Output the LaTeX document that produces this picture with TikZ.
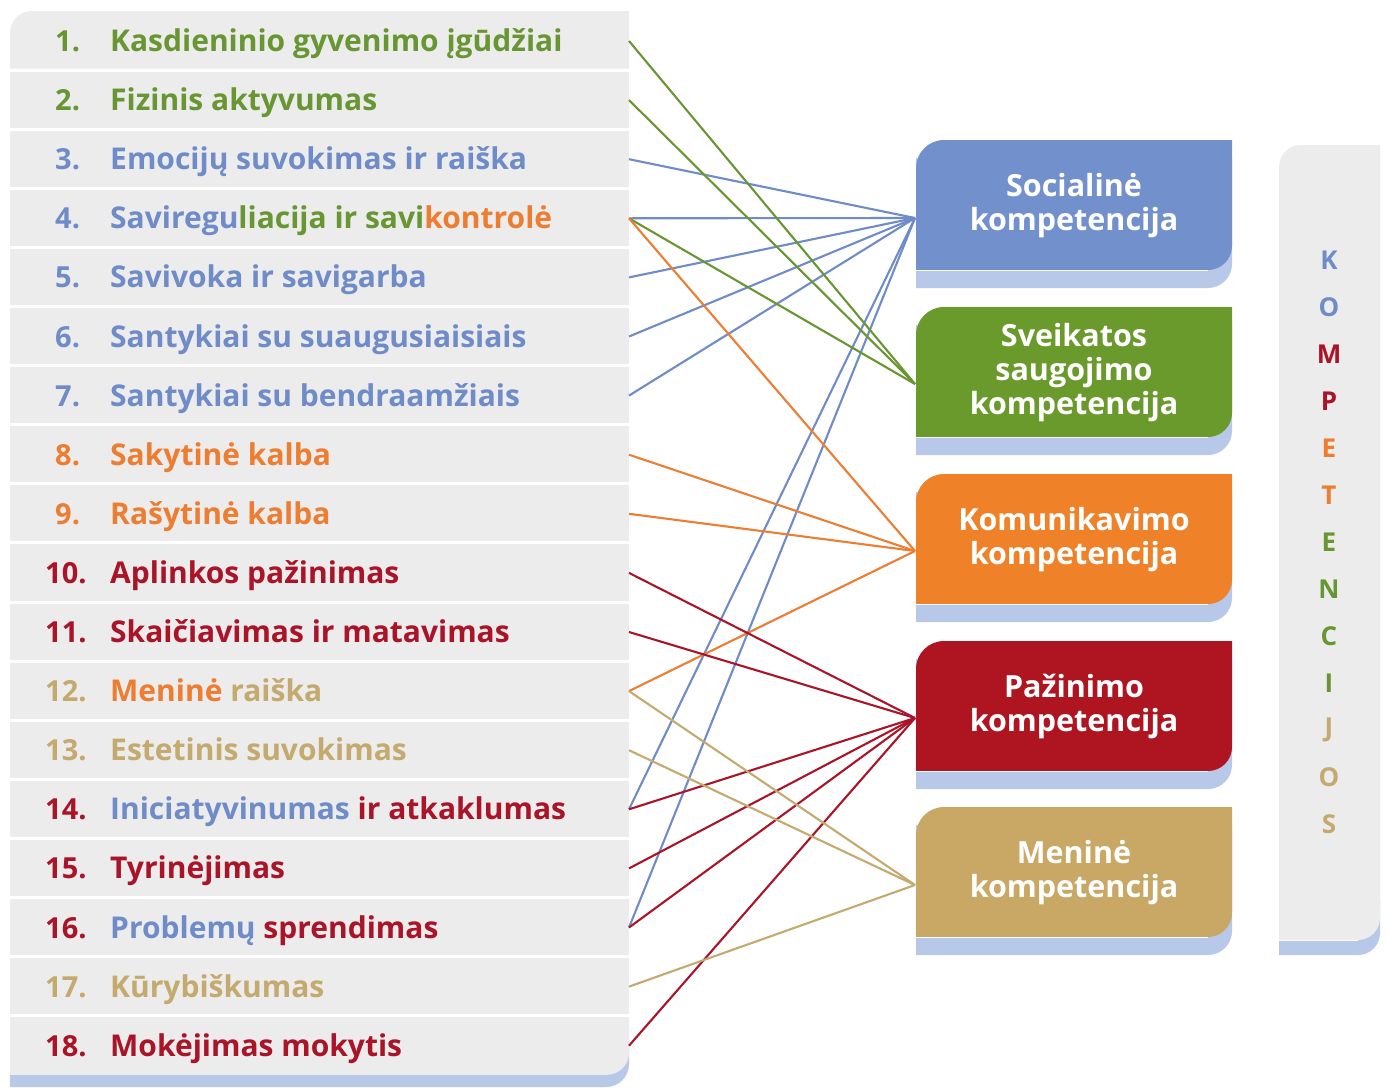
\documentclass[tikz,border=0pt]{standalone}
\usepackage{fontspec}
\setmainfont{Open Sans}
\definecolor{rowgray}{RGB}{236,236,236}
\definecolor{shadowblue}{RGB}{184,200,232}
\definecolor{cblue}{RGB}{114,145,204}
\definecolor{cgreen}{RGB}{106,154,44}
\definecolor{corange}{RGB}{239,130,40}
\definecolor{cred}{RGB}{174,21,32}
\definecolor{ctan}{RGB}{200,168,100}
\definecolor{tblue}{RGB}{111,140,200}
\definecolor{tgreen}{RGB}{104,150,50}
\definecolor{torange}{RGB}{237,125,49}
\definecolor{tred}{RGB}{170,20,40}
\definecolor{ttan}{RGB}{196,170,110}
\newcommand\compbox[2]{%
  \fill[shadowblue] (916,{-(#1+148)}) -- (916,{-(#1+18)}) -- (1232,{-(#1+18)}) -- (1232,{-(#1+124)}) arc[start angle=0,end angle=-90,radius=24] -- cycle;
  \fill[#2] (916,{-(#1+130)}) -- (916,{-(#1+28)}) arc[start angle=180,end angle=90,radius=28] -- (1232,{-(#1)}) -- (1232,{-(#1+106)}) arc[start angle=0,end angle=-90,radius=24] -- cycle;
  \draw[white,line width=1.5] (916,{-(#1+130.5)}) -- (1208,{-(#1+130.5)});
}
\begin{document}
\begin{tikzpicture}[x=1pt,y=1pt,
  lab/.style={anchor=base west,inner sep=0pt,font=\bfseries\fontsize{30}{34}\selectfont},
  num/.style={anchor=base west,inner sep=0pt,font=\bfseries\fontsize{29}{34}\selectfont},
  boxtext/.style={align=center,text=white,inner sep=0pt,font=\bfseries\fontsize{30.5}{34}\selectfont},
  letter/.style={inner sep=0pt,font=\bfseries\fontsize{26}{30}\selectfont},
  conn/.style={line width=2.1pt}]
\useasboundingbox (0,0) rectangle (1389,-1087);
\fill[white] (0,0) rectangle (1389,-1087);
% left list
\fill[shadowblue] (10,-1040) -- (629,-1040) -- (629,-1064) arc[start angle=0,end angle=-90,radius=23] -- (10,-1087) -- cycle;
\fill[rowgray] (10,-68.6) -- (10,-33) arc[start angle=180,end angle=90,radius=22] -- (629,-11) -- (629,-68.6) -- cycle;
\foreach \i in {2,...,17} {\fill[rowgray] (10,{-11-(\i-1)*59.1-1.5}) rectangle (629,{-11-\i*59.1+1.5});}
\fill[rowgray] (10,-1017.2) -- (629,-1017.2) -- (629,-1052.8) arc[start angle=0,end angle=-90,radius=22] -- (10,-1074.8) -- cycle;
% row texts
\node[num,text=tgreen] (n1) at (55,-51.5) {1.};
\node[lab,text=tgreen] (t1) at (110,-51.5) {Kasdieninio gyvenimo įgūdžiai};
\node[num,text=tgreen] (n2) at (55,-110.6) {2.};
\node[lab,text=tgreen] (t2) at (110,-110.6) {Fizinis aktyvumas};
\node[num,text=tblue] (n3) at (55,-169.7) {3.};
\node[lab,text=tblue] (t3) at (110,-169.7) {Emocijų suvokimas ir raiška};
\node[num,text=tblue] (n4) at (55,-228.8) {4.};
\node[lab,text=tblue] (t4) at (110,-228.8) {Saviregu\textcolor{tgreen}{liacija ir savi}\textcolor{torange}{kontrolė}};
\node[num,text=tblue] (n5) at (55,-287.9) {5.};
\node[lab,text=tblue] (t5) at (110,-287.9) {Savivoka ir savigarba};
\node[num,text=tblue] (n6) at (55,-347) {6.};
\node[lab,text=tblue] (t6) at (110,-347) {Santykiai su suaugusiaisiais};
\node[num,text=tblue] (n7) at (55,-406.1) {7.};
\node[lab,text=tblue] (t7) at (110,-406.1) {Santykiai su bendraamžiais};
\node[num,text=torange] (n8) at (55,-465.2) {8.};
\node[lab,text=torange] (t8) at (110,-465.2) {Sakytinė kalba};
\node[num,text=torange] (n9) at (55,-524.3) {9.};
\node[lab,text=torange] (t9) at (110,-524.3) {Rašytinė kalba};
\node[num,text=tred] (n10) at (45,-583.4) {10.};
\node[lab,text=tred] (t10) at (110,-583.4) {Aplinkos pažinimas};
\node[num,text=tred] (n11) at (45,-642.5) {11.};
\node[lab,text=tred] (t11) at (110,-642.5) {Skaičiavimas ir matavimas};
\node[num,text=ttan] (n12) at (45,-701.6) {12.};
\node[lab,text=ttan] (t12) at (110,-701.6) {\textcolor{torange}{Meninė} raiška};
\node[num,text=ttan] (n13) at (45,-760.7) {13.};
\node[lab,text=ttan] (t13) at (110,-760.7) {Estetinis suvokimas};
\node[num,text=tred] (n14) at (45,-819.8) {14.};
\node[lab,text=tred] (t14) at (110,-819.8) {\textcolor{tblue}{Iniciatyvinumas} ir atkaklumas};
\node[num,text=tred] (n15) at (45,-878.9) {15.};
\node[lab,text=tred] (t15) at (110,-878.9) {Tyrinėjimas};
\node[num,text=tred] (n16) at (45,-938) {16.};
\node[lab,text=tred] (t16) at (110,-938) {\textcolor{tblue}{Problemų} sprendimas};
\node[num,text=ttan] (n17) at (45,-997.1) {17.};
\node[lab,text=ttan] (t17) at (110,-997.1) {Kūrybiškumas};
\node[num,text=tred] (n18) at (45,-1056.2) {18.};
\node[lab,text=tred] (t18) at (110,-1056.2) {Mokėjimas mokytis};
% row end points
\foreach \i in {1,...,18} {\coordinate (e\i) at (629,{-41-(\i-1)*59.1});}
% competence boxes
\compbox{140}{cblue}
\compbox{307}{cgreen}
\compbox{474}{corange}
\compbox{641}{cred}
\compbox{807}{ctan}
\node[boxtext] (bsoc) at (1074,-206) {Socialinė\\kompetencija};
\node[boxtext] (bhea) at (1074,-373) {Sveikatos\\saugojimo\\kompetencija};
\node[boxtext] (bcom) at (1074,-540) {Komunikavimo\\kompetencija};
\node[boxtext] (bcog) at (1074,-706) {Pažinimo\\kompetencija};
\node[boxtext] (bart) at (1074,-873) {Meninė\\kompetencija};
\coordinate (soc) at (915,-218);
\coordinate (hea) at (915,-384);
\coordinate (com) at (915,-551);
\coordinate (cog) at (915,-718);
\coordinate (art) at (915,-885);
% connectors
\foreach \i in {3,4,5,6,7,14,16} {\draw[conn,tblue] (e\i) -- (soc);}
\foreach \i in {1,2,4} {\draw[conn,tgreen] (e\i) -- (hea);}
\foreach \i in {4,8,9,12} {\draw[conn,torange] (e\i) -- (com);}
\foreach \i in {10,11,14,15,16,18} {\draw[conn,tred] (e\i) -- (cog);}
\foreach \i in {12,13,17} {\draw[conn,ttan] (e\i) -- (art);}
% KOMPETENCIJOS bar
\fill[shadowblue] (1279,-955) -- (1279,-900) -- (1380,-900) -- (1380,-933) arc[start angle=0,end angle=-90,radius=22] -- cycle;
\fill[rowgray] (1279,-940) -- (1279,-167) arc[start angle=180,end angle=90,radius=22] -- (1380,-145) -- (1380,-918) arc[start angle=0,end angle=-90,radius=22] -- cycle;
\draw[white,line width=1.5] (1279,-940.5) -- (1358,-940.5);
\node[letter,text=tblue] (k1) at (1329,-260) {K};
\node[letter,text=tblue] (k2) at (1329,-307) {O};
\node[letter,text=tred] (k3) at (1329,-354) {M};
\node[letter,text=tred] (k4) at (1329,-401) {P};
\node[letter,text=torange] (k5) at (1329,-448) {E};
\node[letter,text=torange] (k6) at (1329,-495) {T};
\node[letter,text=tgreen] (k7) at (1329,-542) {E};
\node[letter,text=tgreen] (k8) at (1329,-589) {N};
\node[letter,text=tgreen] (k9) at (1329,-636) {C};
\node[letter,text=tgreen] (k10) at (1329,-683) {I};
\node[letter,text=ttan] (k11) at (1329,-730) {J};
\node[letter,text=ttan] (k12) at (1329,-777) {O};
\node[letter,text=ttan] (k13) at (1329,-824) {S};
\end{tikzpicture}
\end{document}
